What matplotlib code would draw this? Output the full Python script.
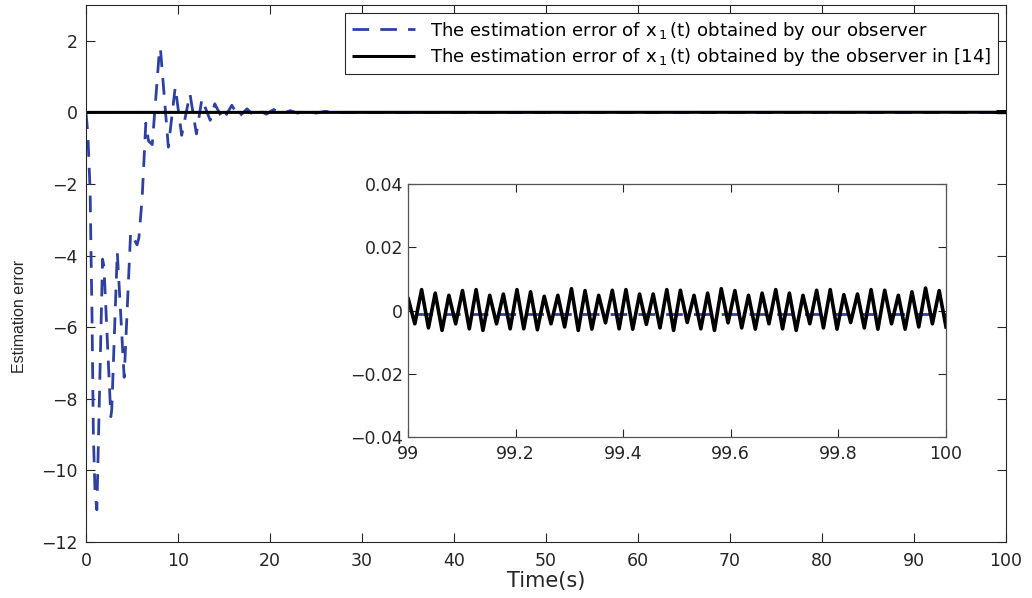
import numpy as np
import matplotlib
matplotlib.use('Agg')
import matplotlib.pyplot as plt

plt.rcParams['font.family'] = ['DejaVu Sans']
plt.rcParams['axes.unicode_minus'] = True

# estimation error of our observer (transient)
t_ours = [0, 0.2, 0.45, 0.55, 0.65, 0.8, 0.98, 1.18, 1.8, 1.95, 2.7, 2.8, 3.4,
          4.15, 4.85, 5.55, 5.75, 6.1, 6.5, 6.8, 7.2, 8.0, 8.1, 8.95, 9.7, 10.4,
          11.3, 12.0, 12.6, 13.5, 14.0, 14.9, 15.85, 16.6, 17.5, 18.2, 18.9,
          19.6, 20.4, 21.3, 22.2, 23.0, 24.0, 25.0, 26.0, 27.0, 28.0, 100]
err_ours = [0, -0.6, -2.2, -4.0, -5.6, -9.0, -10.6, -11.1, -4.1, -4.3, -8.5,
            -8.3, -3.9, -7.4, -3.36, -3.7, -3.5, -2.4, -0.3, -0.8, -0.9, 1.8,
            1.75, -0.97, 0.71, -0.64, 0.52, -0.6, 0.38, -0.22, 0.24, -0.22, 0.2,
            -0.13, 0.1, -0.08, 0.04, -0.05, 0.08, -0.04, 0.05, -0.02, 0.05,
            -0.02, 0.03, -0.01, -0.0011, -0.0011]

# observer in [14]: peaks and troughs of the oscillation between 99 s and 100 s (x1e-3)
ref_peaks = [4.0, 6.6, 5.5, 4.8, 6.3, 6.6, 4.8, 5.2, 6.6, 5.9, 4.5, 4.8, 6.9,
             6.3, 4.8, 6.4, 6.6, 5.2, 5.2, 6.6, 6.4, 4.8, 5.5, 6.9, 6.3, 4.8,
             5.5, 6.6, 5.5, 4.8, 6.4, 6.6, 5.0, 5.2, 6.6, 6.4, 4.8, 5.9, 7.1, 6.3]
ref_troughs = [-4.2, -5.5, -6.3, -4.2, -5.8, -6.3, -4.2, -5.8, -5.8, -6.1, -4.2,
               -5.2, -6.3, -5.9, -3.9, -5.8, -5.9, -4.4, -5.5, -6.3, -3.8, -5.8,
               -6.3, -3.9, -5.5, -5.9, -4.2, -5.8, -6.3, -4.2, -5.5, -5.9, -3.8,
               -5.5, -5.9, -4.2, -5.9, -5.2, -4.2, -5.2]

xticks = [0, 10, 20, 30, 40, 50, 60, 70, 80, 90, 100]
yticks = [-12, -10, -8, -6, -4, -2, 0, 2]
inset_xticks = [99, 99.2, 99.4, 99.6, 99.8, 100]
inset_xlabels = ['99', '99.2', '99.4', '99.6', '99.8', '100']
inset_yticks = [-0.04, -0.02, 0, 0.02, 0.04]
inset_ylabels = ['\u22120.04', '\u22120.02', '0', '0.02', '0.04']

blue = '#2e41a3'
edge = '#262626'

ref_osc = np.column_stack((ref_peaks, ref_troughs)).ravel() * 1e-3
t_osc = np.linspace(99, 100, len(ref_osc))
t_ref = np.concatenate(([0.0], t_osc))
err_ref = np.concatenate(([0.0], ref_osc))

fig = plt.figure(figsize=(10.32, 5.98), dpi=100)
ax = fig.add_axes([86/1032, 56/598, 920/1032, 537/598])

ax.plot(t_ours, err_ours, color=blue, lw=2.0, dashes=(6.0, 4.0),
        label=r'The estimation error of x$_{\,1}$$\,$(t) obtained by our observer')
ax.plot(t_ref, err_ref, color='black', lw=2.2, solid_capstyle='butt',
        label=r'The estimation error of x$_{\,1}$$\,$(t) obtained by the observer in [14]')

ax.set_xlim(0, 100)
ax.set_ylim(-12, 3)
ax.set_xticks(xticks)
ax.set_yticks(yticks)
ax.tick_params(direction='in', length=6.3, width=0.8, top=True, right=True,
               labelsize=12.5, colors=edge)
ax.tick_params(axis='x', pad=7)
ax.tick_params(axis='y', pad=6)
for s in ax.spines.values():
    s.set_color(edge)
    s.set_linewidth(0.8)
ax.set_xlabel('Time(s)', fontsize=15, color=edge, labelpad=1)
ax.set_ylabel('Estimation error', fontsize=11.5, family='Liberation Sans',
              color=edge)
ax.yaxis.set_label_coords(-0.064, 0.42)

leg = ax.legend(loc='upper right', fontsize=13.1, handlelength=3.5,
                fancybox=False, framealpha=1, edgecolor=edge,
                borderaxespad=0.45, labelspacing=0.25, borderpad=0.35)
leg.get_frame().set_linewidth(0.8)

# zoomed inset 99-100 s
ins = fig.add_axes([408/1032, 161/598, 538/1032, 253/598])
ins.plot(t_ours, err_ours, color=blue, lw=2.0, dashes=(6.0, 4.0))
ins.plot(t_ref, err_ref, color='black', lw=2.6, solid_joinstyle='round')
ins.set_xlim(99, 100)
ins.set_ylim(-0.04, 0.04)
ins.set_xticks(inset_xticks)
ins.set_xticklabels(inset_xlabels)
ins.set_yticks(inset_yticks)
ins.set_yticklabels(inset_ylabels)
ins.tick_params(direction='in', length=6, width=0.8, top=True, right=True,
                labelsize=12.5, colors=edge)
ins.tick_params(axis='x', pad=6)
for s in ins.spines.values():
    s.set_color('#555555')
    s.set_linewidth(0.9)

fig.savefig('out.png', dpi=100)
